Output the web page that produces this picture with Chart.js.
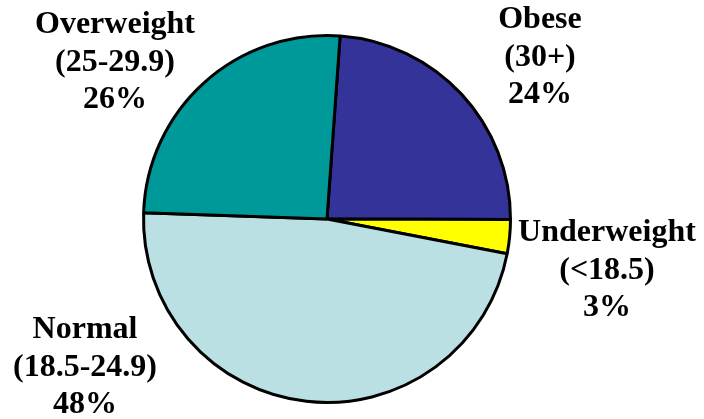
<!DOCTYPE html>
<html>
<head>
<meta charset="utf-8">
<script src="https://cdn.jsdelivr.net/npm/chart.js@4.4.1/dist/chart.umd.min.js"></script>
<style>
    html, body { margin: 0; padding: 0; background: #fff; }
    #wrap { width: 704px; height: 419px; }
</style>
</head>
<body>
<div id="wrap"><canvas id="bmiChart" width="704" height="419"></canvas></div>
<script>
// BMI categories, in drawing order (clockwise from just right of 12 o'clock)
const categories = ['Obese', 'Underweight', 'Normal', 'Overweight'];
const ranges = ['(30+)', '(<18.5)', '(18.5-24.9)', '(25-29.9)'];
const shares = [23.9, 3.0, 47.5, 25.6];
const shownPercents = ['24%', '3%', '48%', '26%'];

// Slice colors
const sliceColors = ['#333399', '#ffff00', '#bbe0e3', '#009999'];

// Where each label block is centred (x, y of first line)
const labelSpots = [
    { x: 540, y: 20 },
    { x: 607, y: 233 },
    { x: 85, y: 330 },
    { x: 115, y: 25 }
];

// Draw the three-line labels outside the pie
const outsideLabels = {
    id: 'outsideLabels',
    afterDraw(chart) {
        const ctx = chart.ctx;
        ctx.save();
        ctx.fillStyle = '#000';
        ctx.font = 'bold 32px "Liberation Serif", "Times New Roman", serif';
        ctx.textAlign = 'center';
        ctx.textBaseline = 'middle';
        categories.forEach((name, i) => {
            const spot = labelSpots[i];
            const lines = [name, ranges[i], shownPercents[i]];
            lines.forEach((line, j) => {
                ctx.fillText(line, spot.x, spot.y + j * 37.5);
            });
        });
        ctx.restore();
    }
};

new Chart(document.getElementById('bmiChart'), {
    type: 'pie',
    data: {
        labels: categories,
        datasets: [{
            data: shares,
            backgroundColor: sliceColors,
            borderColor: '#000',
            borderWidth: 3
        }]
    },
    options: {
        responsive: false,
        animation: false,
        rotation: 4.1,
        layout: {
            padding: { top: 34, bottom: 15, left: 0, right: 50 }
        },
        plugins: {
            legend: { display: false },
            tooltip: { enabled: false }
        }
    },
    plugins: [outsideLabels]
});
</script>
</body>
</html>
